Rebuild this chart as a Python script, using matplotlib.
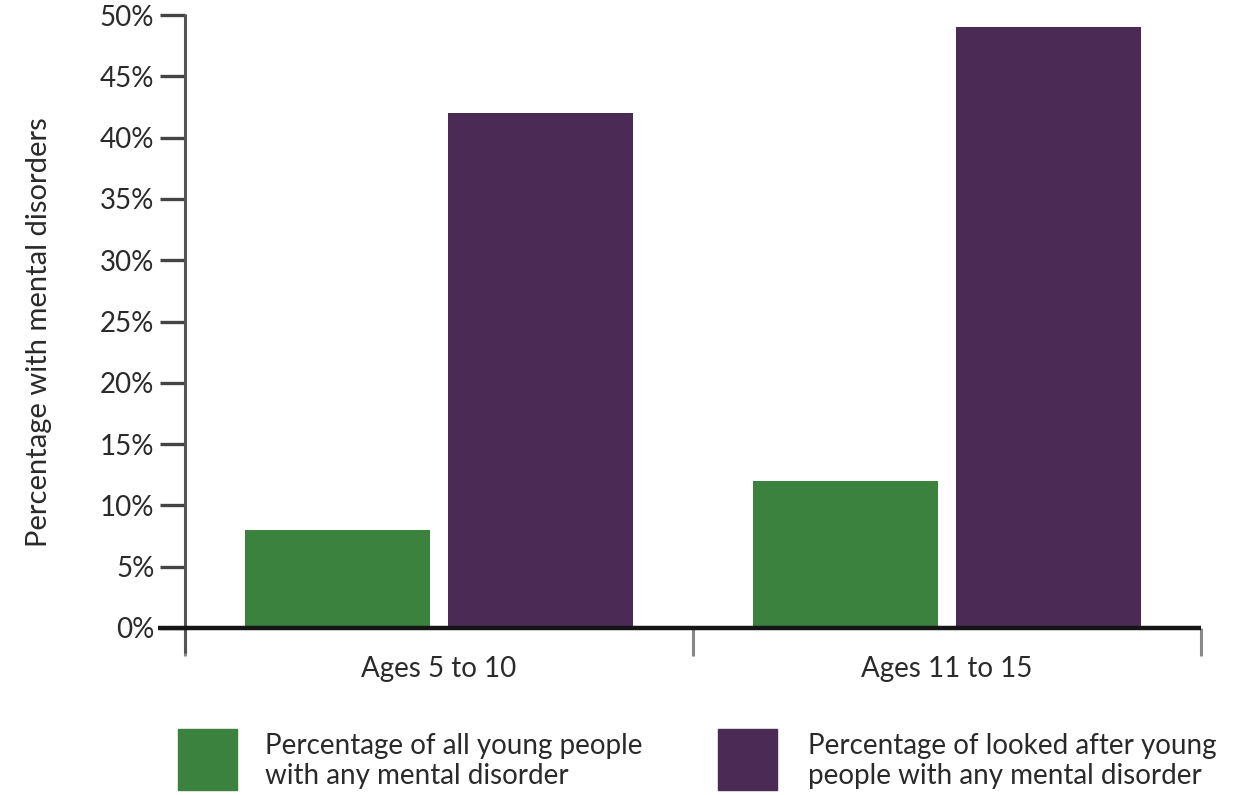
import matplotlib
matplotlib.use("Agg")
import matplotlib.pyplot as plt
from matplotlib.patches import Rectangle
import numpy as np

# Data
categories = ["Ages 5 to 10", "Ages 11 to 15"]
all_young = [8, 12]
looked_after = [42, 49]
series_labels = [
    "Percentage of all young people\nwith any mental disorder",
    "Percentage of looked after young\npeople with any mental disorder",
]
yticks = [0, 5, 10, 15, 20, 25, 30, 35, 40, 45, 50]

GREEN = "#3b823e"
PURPLE = "#4b2a55"
TEXT = "#2a2a2a"

plt.rcParams["font.family"] = ["Lato", "DejaVu Sans"]

W, H = 1251, 795
fig = plt.figure(figsize=(W / 100, H / 100), dpi=100)
ax = fig.add_axes([185 / W, (H - 628) / H, (1201 - 185) / W, (628 - 15) / H])

x = np.arange(len(categories))
width = 0.3626
ax.bar(x - 0.2, all_young, width, color=GREEN, zorder=2)
ax.bar(x + 0.2, looked_after, width, color=PURPLE, zorder=2)

ax.set_xlim(-0.5, len(categories) - 0.5)
ax.set_ylim(0, 50)

for s in ax.spines.values():
    s.set_visible(False)

# left axis line, running slightly below the baseline
ax.plot([0, 0], [-0.04, 1.002], transform=ax.transAxes, color="#555555",
        lw=2.2, clip_on=False, zorder=3, solid_capstyle="butt")
# baseline, extended left through the 0% tick
ax.plot([-0.027, 1.0], [0, 0], transform=ax.transAxes, color="#151515",
        lw=3.2, clip_on=False, zorder=4, solid_capstyle="butt")

# y ticks
ax.set_yticks(yticks)
ax.set_yticklabels([f"{v}%" for v in yticks])
ax.tick_params(axis="y", direction="out", length=18, width=2.4, color="#444444",
               labelsize=20, labelcolor=TEXT, pad=4)

# x boundary ticks (major) and centred category labels (minor)
ax.set_xticks(np.arange(-0.5, len(categories), 1.0))
ax.set_xticklabels([])
ax.tick_params(axis="x", which="major", direction="out", length=20, width=2.2,
               color="#888888")
ax.set_xticks(x, minor=True)
ax.set_xticklabels(categories, minor=True)
ax.tick_params(axis="x", which="minor", length=0, labelsize=20,
               labelcolor=TEXT, pad=20)

ax.set_ylabel("Percentage with mental disorders", fontsize=21, color=TEXT)
ax.yaxis.set_label_coords(-0.131, 0.483)

# legend
colors = [GREEN, PURPLE]
sq_x = [178, 718]
txt_x = [265, 808]
for c, sx, tx, lab in zip(colors, sq_x, txt_x, series_labels):
    fig.patches.append(Rectangle((sx / W, (H - 790) / H), 59 / W, 61 / H,
                                 transform=fig.transFigure, color=c))
    fig.text(tx / W, (H - 761) / H, lab, fontsize=20, color=TEXT,
             va="center", ha="left", linespacing=1.15)

fig.savefig("out.png", dpi=100, facecolor="white")
